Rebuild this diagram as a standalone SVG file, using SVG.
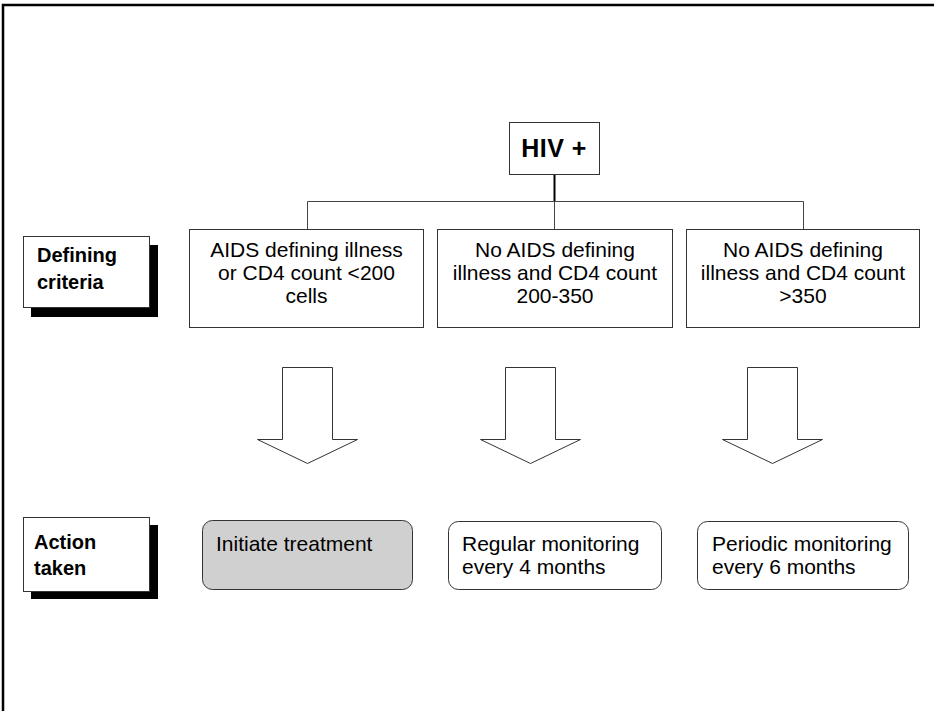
<svg xmlns="http://www.w3.org/2000/svg" width="934" height="711" viewBox="0 0 934 711">
<style>
.box{fill:#fff;stroke:#333;stroke-width:1}
.shadow{fill:#000}
.t{font-family:"Liberation Sans",Arial,sans-serif;font-size:21px;fill:#000}
.c{text-anchor:middle}
.lb{font-family:"Liberation Sans",Arial,sans-serif;font-size:20px;font-weight:bold;fill:#000}
.arrow{fill:#fff;stroke:#333;stroke-width:1}
.conn{fill:none;stroke:#444;stroke-width:1}
</style>
<rect width="934" height="711" fill="#fff"/>
<path d="M3,711 V5 H934" fill="none" stroke="#000" stroke-width="2.5"/>

<g id="connectors">
<line x1="554.5" y1="174" x2="554.5" y2="201" stroke="#000" stroke-width="2"/>
<path class="conn" d="M307.5,229 V201.5 H803.5 V229 M554.5,201.5 V229"/>
</g>

<g id="hiv">
<rect class="box" x="509.5" y="122.5" width="90" height="52"/>
<text class="lb" x="554" y="157" text-anchor="middle" style="font-size:25px;letter-spacing:0.5px">HIV +</text>
</g>

<g id="label-defining">
<rect class="shadow" x="31" y="245" width="127" height="72"/>
<rect class="box" x="23.5" y="236.5" width="126" height="71"/>
<text class="lb" x="37" y="262">Defining</text>
<text class="lb" x="37" y="289">criteria</text>
</g>

<g id="crit1">
<rect class="box" x="189.5" y="229.5" width="234" height="98"/>
<text class="t c" x="306.5" y="257">AIDS defining illness</text>
<text class="t c" x="306.5" y="280">or CD4 count &lt;200</text>
<text class="t c" x="306.5" y="303">cells</text>
</g>

<g id="crit2">
<rect class="box" x="437.5" y="229.5" width="235" height="98"/>
<text class="t c" x="555" y="257">No AIDS defining</text>
<text class="t c" x="555" y="280">illness and CD4 count</text>
<text class="t c" x="555" y="303">200-350</text>
</g>

<g id="crit3">
<rect class="box" x="686.5" y="229.5" width="233" height="98"/>
<text class="t c" x="803" y="257">No AIDS defining</text>
<text class="t c" x="803" y="280">illness and CD4 count</text>
<text class="t c" x="803" y="303">&gt;350</text>
</g>

<g id="arrow1">
<path class="arrow" d="M282.5,367.5 H332.5 V439.5 H357.5 L307.5,463.5 L257.5,439.5 H282.5 Z"/>
</g>
<g id="arrow2">
<path class="arrow" d="M505.5,367.5 H555.5 V439.5 H580.5 L530.5,463.5 L480.5,439.5 H505.5 Z"/>
</g>
<g id="arrow3">
<path class="arrow" d="M747.5,367.5 H797.5 V439.5 H822.5 L772.5,463.5 L722.5,439.5 H747.5 Z"/>
</g>

<g id="label-action">
<rect class="shadow" x="31" y="525" width="127" height="74"/>
<rect class="box" x="23.5" y="517.5" width="126" height="74"/>
<text class="lb" x="34" y="549">Action</text>
<text class="lb" x="34" y="575">taken</text>
</g>

<g id="act1">
<rect x="202.5" y="520.5" width="210" height="69" rx="10" fill="#d0d0d0" stroke="#333"/>
<text class="t" x="216" y="551">Initiate treatment</text>
</g>

<g id="act2">
<rect class="box" x="448.5" y="521.5" width="213" height="68" rx="10"/>
<text class="t" x="462" y="551">Regular monitoring</text>
<text class="t" x="462" y="574">every 4 months</text>
</g>

<g id="act3">
<rect class="box" x="697.5" y="521.5" width="211" height="68" rx="10"/>
<text class="t" x="712" y="551">Periodic monitoring</text>
<text class="t" x="712" y="574">every 6 months</text>
</g>
</svg>
